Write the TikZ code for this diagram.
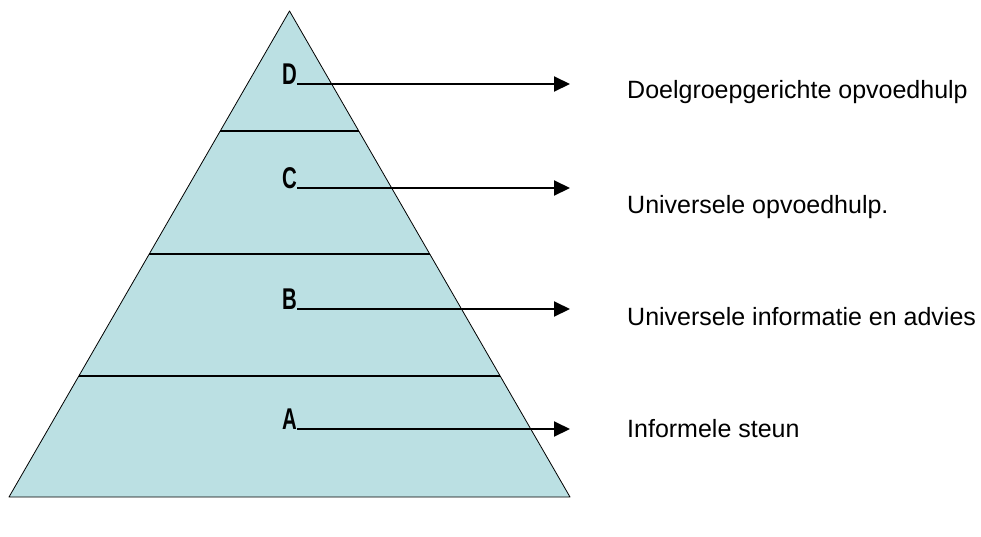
\documentclass[tikz,border=0pt]{standalone}
\usepackage{fontspec}
\setmainfont{Liberation Sans}
\usetikzlibrary{arrows.meta, calc, positioning}
\definecolor{pyrfill}{RGB}{187,224,227}

\begin{document}
\begin{tikzpicture}[x=1pt,y=-1pt,line join=round,
		layer/.style={line width=2pt},
		letter/.style={inner sep=0pt,anchor=base east,font=\bfseries\fontsize{30}{30}\selectfont},
		level/.style={inner sep=0pt,anchor=base west,font=\fontsize{25}{25}\selectfont},
		pointer/.style={line width=2pt,-{Triangle[length=16pt,width=15pt]}}]
		\useasboundingbox (0,0) rectangle (981,536);

		\coordinate (top) at (289.5,11);
		\coordinate (bl)  at (9,497);
		\coordinate (br)  at (570,497);
		\draw[fill=pyrfill,line width=0.8pt] (top) -- (bl) -- (br) -- cycle;

		\draw[layer] ($(top)!0.247!(bl)$) -- ($(top)!0.247!(br)$);
		\draw[layer] ($(top)!0.5!(bl)$)   -- ($(top)!0.5!(br)$);
		\draw[layer] ($(top)!0.751!(bl)$) -- ($(top)!0.751!(br)$);

		\node[letter]	(d)	at (297,84)		{\scalebox{0.68}[1]{D}};
		\node[letter]	(c)	at (297,188)	{\scalebox{0.68}[1]{C}};
		\node[letter]	(b)	at (297,309)	{\scalebox{0.68}[1]{B}};
		\node[letter]	(a)	at (297,429)	{\scalebox{0.68}[1]{A}};

		\coordinate (dp) at (570,84);
		\coordinate (cp) at (570,188);
		\coordinate (bp) at (570,309);
		\coordinate (ap) at (570,429);

		\node[level]	(dt)	at (627,98)		{Doelgroepgerichte opvoedhulp};
		\node[level]	(ct)	at (627,213)	{Universele opvoedhulp.};
		\node[level]	(bt)	at (627,325)	{Universele informatie en advies};
		\node[level]	(at)	at (627,437)	{Informele steun};

		\path[pointer]
			(d.base east)	edge	(dp)
			(c.base east)	edge	(cp)
			(b.base east)	edge	(bp)
			(a.base east)	edge	(ap)
			;
\end{tikzpicture}
\end{document}
